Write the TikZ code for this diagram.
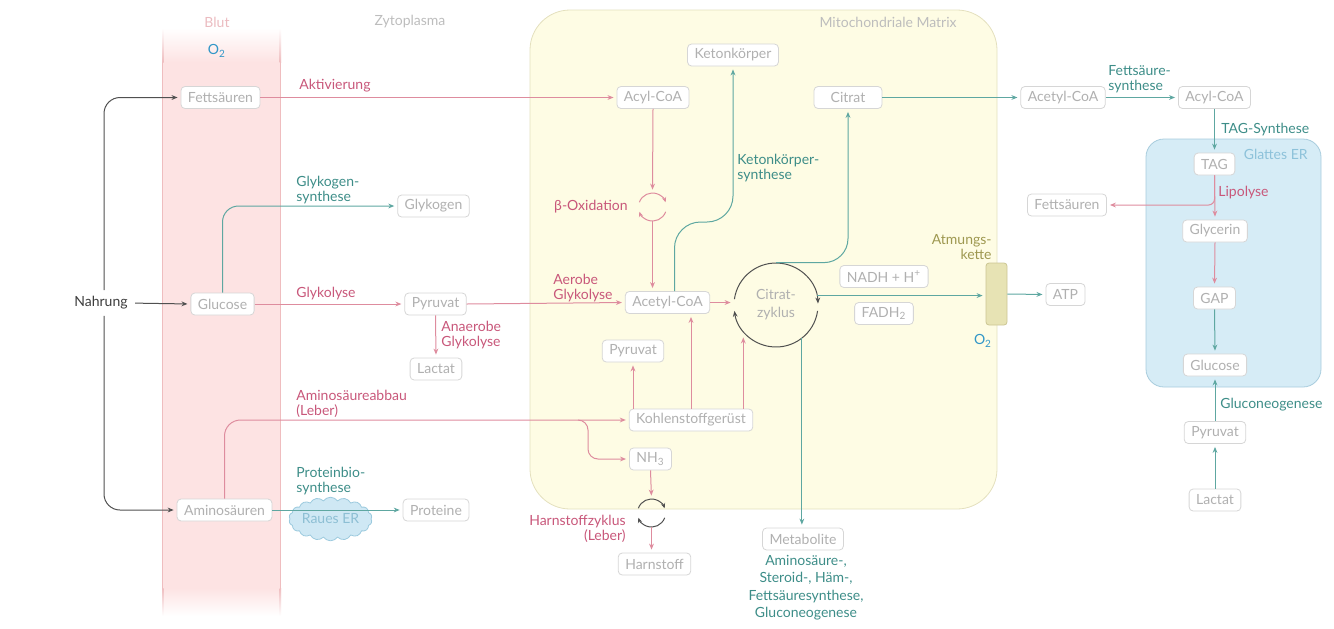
\documentclass[tikz,border=0pt]{standalone}
\usepackage{fontspec}
\setmainfont{Lato}
\usetikzlibrary{arrows.meta,shapes.symbols}
\definecolor{boxline}{HTML}{D6D6D6}
\definecolor{boxtext}{HTML}{B0B0B0}
\definecolor{pinkline}{HTML}{DE8C9E}
\definecolor{pinktext}{HTML}{C8577A}
\definecolor{tealline}{HTML}{5EA7A1}
\definecolor{tealtext}{HTML}{3D8D88}
\definecolor{darkline}{HTML}{505050}
\definecolor{darktext}{HTML}{3C3C3C}
\definecolor{oxblue}{HTML}{3297C8}
\definecolor{bloodfill}{HTML}{FDE3E3}
\definecolor{bloodline}{HTML}{EFBDBF}
\definecolor{bloodtext}{HTML}{EBBBC0}
\definecolor{mitofill}{HTML}{FEFCE4}
\definecolor{mitoline}{HTML}{E4E0BE}
\definecolor{erfill}{HTML}{D6ECF6}
\definecolor{erline}{HTML}{A8CCDD}
\definecolor{ertext}{HTML}{8DC2DA}
\definecolor{cloudfill}{HTML}{CFE8F4}
\definecolor{cloudline}{HTML}{9CCADE}
\definecolor{cloudtext}{HTML}{8DBFD4}
\definecolor{chainfill}{HTML}{E7E3B4}
\definecolor{chainline}{HTML}{CBC693}
\definecolor{chaintext}{HTML}{9E9850}
\definecolor{titletext}{HTML}{BDBDBD}
\newcommand\boxfont{\fontsize{7}{8}\selectfont}
\newcommand\lblfont{\fontsize{7}{7.6}\selectfont}
\begin{document}
\begin{tikzpicture}[x=0.5pt,y=-0.5pt,
    box/.style={draw=boxline,fill=white,rounded corners=2pt,text=boxtext,
        minimum height=11pt,inner xsep=3.5pt,inner ysep=0pt,font=\boxfont},
    lbl/.style={inner sep=0pt,font=\lblfont,align=left,anchor=north west},
    pinklbl/.style={lbl,text=pinktext},
    teallbl/.style={lbl,text=tealtext},
    title/.style={inner sep=0pt,font=\boxfont,text=titletext},
    tip/.style={-{Stealth[length=3pt,width=2.4pt]},shorten >=1.5pt},
    pinkarrow/.style={draw=pinkline,line width=0.5pt,tip},
    tealarrow/.style={draw=tealline,line width=0.5pt,tip},
    darkarrow/.style={draw=darkline,line width=0.5pt,tip},
    cyc/.style={circle,inner sep=0pt}]
    \useasboundingbox (0,0) rectangle (1334,628);
    % Blut
    \fill[bloodfill] (162,62) rectangle (281,588);
    \shade[top color=white,bottom color=bloodfill] (162,28) rectangle (281,62);
    \shade[top color=bloodfill,bottom color=white] (162,588) rectangle (281,616);
    \draw[bloodline] (162.5,62) -- (162.5,588) (280.5,62) -- (280.5,588);
    \shade[top color=white,bottom color=bloodline] (162,28) rectangle (163.5,62);
    \shade[top color=white,bottom color=bloodline] (279.5,28) rectangle (281,62);
    \shade[top color=bloodline,bottom color=white] (162,588) rectangle (163.5,616);
    \shade[top color=bloodline,bottom color=white] (279.5,588) rectangle (281,616);
    % Mitochondrium und ER
    \draw[mitoline,fill=mitofill,rounded corners=20pt] (530,10) rectangle (997,509);
    \draw[erline,fill=erfill,rounded corners=9pt] (1146,139) rectangle (1321,387);
    \node[title,text=bloodtext] (tblut) at (217,22) {Blut};
    \node[title] (tzyto) at (410,22) {Zytoplasma};
    \node[title,anchor=east] (tmito) at (957,22) {Mitochondriale Matrix};
    \node[title,anchor=east,text=ertext] (ter) at (1308,154) {Glattes ER};
    \node[title,text=oxblue] (o2blut) at (217,51) {O\textsubscript{2}};
    \node[title,text=oxblue] (o2kette) at (983,341) {O\textsubscript{2}};
    % Nahrung und Blut
    \node[inner sep=0pt,font=\boxfont,text=darktext] (nahrung) at (101,303) {Nahrung};
    \node[box] (fsblut) at (220.5,97.5) {Fettsäuren};
    \node[box] (glcblut) at (222.5,304) {Glucose};
    \node[box] (amino) at (224.5,510) {Aminosäuren};
    % Zytoplasma
    \node[box] (glykogen) at (433.5,206) {Glykogen};
    \node[box] (pyrcyto) at (435.5,304) {Pyruvat};
    \node[box] (lactcyto) at (436,369) {Lactat};
    \node[box] (proteine) at (436,510) {Proteine};
    \node[cloud,cloud puffs=18,cloud puff arc=110,aspect=2.2,draw=cloudline,
        fill=cloudfill,text=cloudtext,minimum width=40pt,minimum height=21pt,
        inner sep=0pt,font=\boxfont] (rauer) at (330.5,519) {Raues ER};
    % Mitochondriale Matrix
    \node[box] (acylm) at (653,97.5) {Acyl-CoA};
    \node[box] (keton) at (733,55) {Ketonkörper};
    \node[box,minimum width=34pt] (citrat) at (848,97.5) {Citrat};
    \node[cyc,minimum size=14pt] (betaox) at (652.5,207) {};
    \node[box] (acoa) at (667.5,302.5) {Acetyl-CoA};
    \node[cyc,minimum size=42pt,text=boxtext,align=center,
        font=\fontsize{7}{9}\selectfont] (cz) at (776,305) {Citrat-\\zyklus};
    \node[box] (nadh) at (884,276.5) {NADH + H\textsuperscript{+}};
    \node[box] (fadh) at (884,313.5) {FADH\textsubscript{2}};
    \node[draw=chainline,fill=chainfill,rounded corners=1.5pt,minimum width=10.5pt,
        minimum height=31pt,inner sep=0pt] (kette) at (996.5,294) {};
    \node[box] (pyrmito) at (633,351) {Pyruvat};
    \node[box] (kohlen) at (691,420) {Kohlenstoffgerüst};
    \node[box] (nh3) at (650.5,459) {NH\textsubscript{3}};
    \node[cyc,minimum size=14pt] (hzk) at (651.5,513) {};
    \node[box] (harnstoff) at (654.5,564) {Harnstoff};
    \node[box] (metab) at (803,539) {Metabolite};
    \node[box] (atp) at (1065.5,294.5) {ATP};
    % rechts
    \node[box] (acoar) at (1063,97.5) {Acetyl-CoA};
    \node[box] (acylr) at (1214.5,97.5) {Acyl-CoA};
    \node[box] (tag) at (1214.5,164) {TAG};
    \node[box] (fsright) at (1067,205) {Fettsäuren};
    \node[box] (glycerin) at (1215,231) {Glycerin};
    \node[box] (gap) at (1214.5,298) {GAP};
    \node[box] (glcer) at (1215,365) {Glucose};
    \node[box] (pyrright) at (1215,432.5) {Pyruvat};
    \node[box] (lactright) at (1215,500) {Lactat};
    % Beschriftungen
    \node[pinklbl] (laktiv) at (299,79) {Aktivierung};
    \node[teallbl] (lglykogen) at (296,176) {Glykogen-\\synthese};
    \node[pinklbl] (lglykolyse) at (296,287) {Glykolyse};
    \node[pinklbl] (lanaerob) at (441,321) {Anaerobe\\Glykolyse};
    \node[pinklbl] (laerob) at (553,274) {Aerobe\\Glykolyse};
    \node[pinklbl] (labbau) at (296,390) {Aminosäureabbau\\(Leber)};
    \node[teallbl] (lprotein) at (296,467) {Proteinbio-\\synthese};
    \node[pinklbl,anchor=east] (lbetaox) at (628,207) {β-Oxidation};
    \node[teallbl] (lketon) at (737,154) {Ketonkörper-\\synthese};
    \node[pinklbl,align=right,anchor=north east] (lharn) at (626,515) {Harnstoffzyklus\\(Leber)};
    \node[lbl,text=chaintext,align=right,anchor=north east] (lkette) at (992,234) {Atmungs-\\kette};
    \node[teallbl,align=center,anchor=north,font=\fontsize{7}{8.6}\selectfont] (lmetab) at (806,555)
        {Aminosäure-,\\Steroid-, Häm-,\\Fettsäuresynthese,\\Gluconeogenese};
    \node[teallbl] (lfsyn) at (1108,65) {Fettsäure-\\synthese};
    \node[teallbl] (ltag) at (1221,123) {TAG-Synthese};
    \node[pinklbl] (llipo) at (1218,186) {Lipolyse};
    \node[teallbl] (lgng) at (1220,398) {Gluconeogenese};
    % Kreise
    \draw[darkline,line width=0.5pt,-{Stealth[length=3pt,width=2.4pt]}]
        ([shift={(172:21pt)}]cz.center) arc[start angle=172,end angle=2,radius=21pt];
    \draw[darkline,line width=0.5pt,-{Stealth[length=3pt,width=2.4pt]}]
        ([shift={(-8:21pt)}]cz.center) arc[start angle=-8,end angle=-172,radius=21pt];
    \draw[pinkline,line width=0.5pt,-{Stealth[length=2.5pt,width=2.2pt]}]
        ([shift={(160:7pt)}]betaox.center) arc[start angle=160,end angle=20,radius=7pt];
    \draw[pinkline,line width=0.5pt,-{Stealth[length=2.5pt,width=2.2pt]}]
        ([shift={(-20:7pt)}]betaox.center) arc[start angle=-20,end angle=-160,radius=7pt];
    \draw[darkline,line width=0.5pt,-{Stealth[length=2.5pt,width=2.2pt]}]
        ([shift={(160:7pt)}]hzk.center) arc[start angle=160,end angle=20,radius=7pt];
    \draw[darkline,line width=0.5pt,-{Stealth[length=2.5pt,width=2.2pt]}]
        ([shift={(-20:7pt)}]hzk.center) arc[start angle=-20,end angle=-160,radius=7pt];
    \coordinate (czright) at ([shift={(13:21pt)}]cz.center);
    \coordinate (czin) at ([shift={(-138:22pt)}]cz.center);
    \coordinate (czout) at ([shift={(-52:21pt)}]cz.center);
    \coordinate (ketbend) at (733,222);
    \coordinate (nhbranch) at (578,420);
    % Pfeile
    \draw[darkarrow,rounded corners=8pt] ([xshift=1.5pt,yshift=3pt]nahrung.north) |- (fsblut.west);
    \draw[darkarrow,rounded corners=8pt] ([xshift=1.5pt,yshift=-3pt]nahrung.south) |- (amino.west);
    \draw[darkarrow,shorten <=3.5pt] (nahrung.east) -- (glcblut.west);
    \draw[pinkarrow] (fsblut.east) -- (acylm.west);
    \draw[tealarrow,rounded corners=8pt] (glcblut.north) |- (glykogen.west);
    \draw[pinkarrow] (glcblut.east) -- (pyrcyto.west);
    \draw[pinkarrow] (pyrcyto.south) -- (lactcyto.north);
    \draw[pinkarrow] (pyrcyto.east) -- (acoa.west);
    \draw[pinkarrow,rounded corners=8pt] (amino.north) |- (kohlen.west);
    \draw[pinkarrow,rounded corners=5pt] (nhbranch) -- ++(10,0) |- (nh3.west);
    \draw[tealarrow] (amino.east) -- (proteine.west);
    \draw[pinkarrow] (acylm.south) -- (betaox.north);
    \draw[pinkarrow] (betaox.south) -- (betaox.south |- acoa.north);
    \draw[tealarrow,rounded corners=13pt] ([xshift=3.5pt]acoa.north) |- (ketbend) -- (keton.south);
    \draw[pinkarrow] (acoa.east) -- (acoa.east -| cz.west);
    \draw[tealarrow,rounded corners=12pt] (cz.north) -| (citrat.south);
    \draw[tealarrow] (czright) -- (czright -| kette.west);
    \draw[tealarrow] (kette.east) -- (atp.west);
    \draw[tealarrow] (czout) -- (czout |- metab.north);
    \draw[pinkarrow] (kohlen.north -| pyrmito) -- (pyrmito.south);
    \draw[pinkarrow] (kohlen.north) -- (kohlen.north |- acoa.south);
    \draw[pinkarrow] (kohlen.north -| czin) -- (czin);
    \draw[pinkarrow] (nh3.south) -- (hzk.north);
    \draw[pinkarrow] (hzk.south) -- (hzk.south |- harnstoff.north);
    \draw[tealarrow] (citrat.east) -- (acoar.west);
    \draw[tealarrow] (acoar.east) -- (acylr.west);
    \draw[tealarrow] (acylr.south) -- (tag.north);
    \draw[pinkarrow] (tag.south) -- (glycerin.north);
    \draw[pinkarrow,rounded corners=3pt] (tag.south) |- (fsright.east);
    \draw[pinkarrow] (glycerin.south) -- (gap.north);
    \draw[tealarrow] (gap.south) -- (glcer.north);
    \draw[tealarrow] (pyrright.north) -- (glcer.south);
    \draw[tealarrow] (lactright.north) -- (pyrright.south);
\end{tikzpicture}
\end{document}
